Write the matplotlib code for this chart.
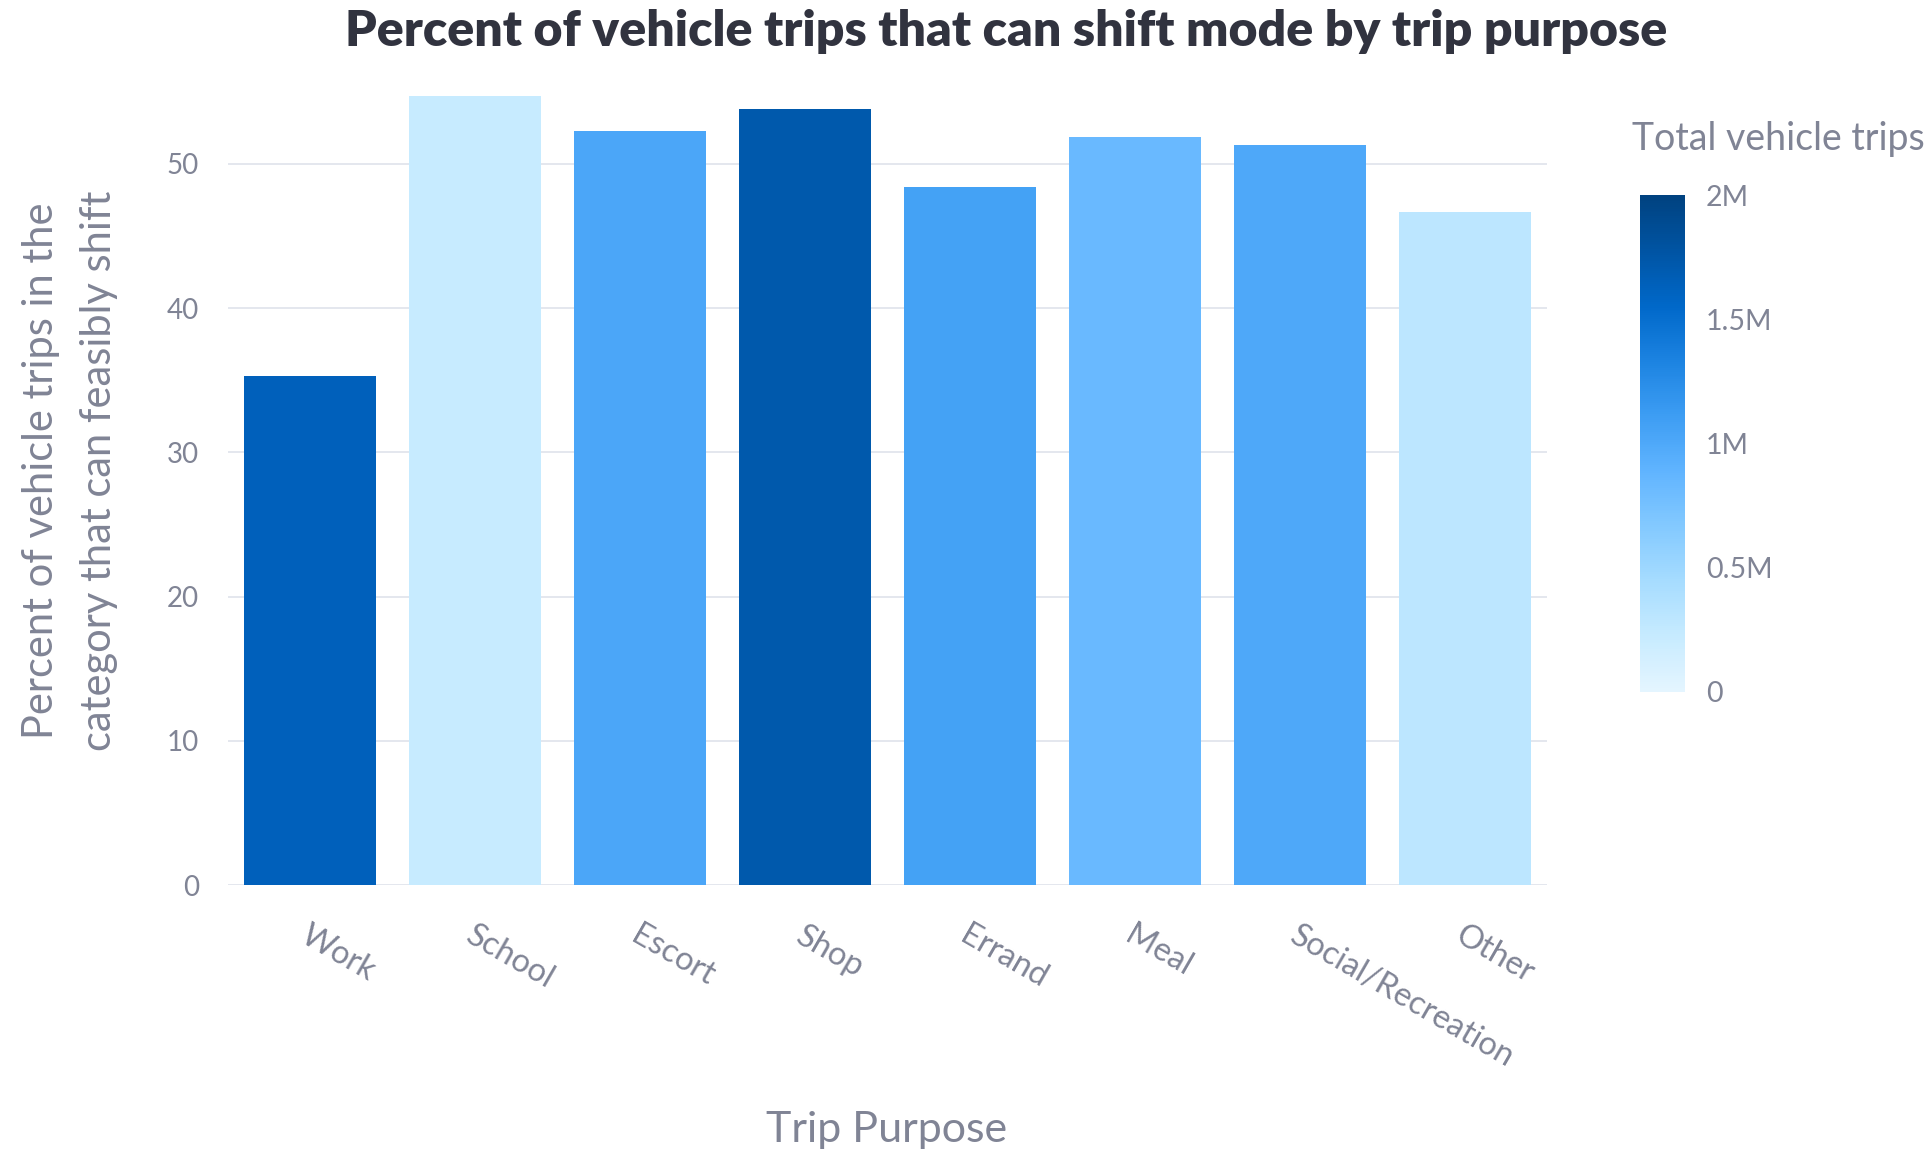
import matplotlib
matplotlib.use("Agg")
import matplotlib.pyplot as plt
import matplotlib.transforms as mtransforms
import numpy as np
from matplotlib.colors import LinearSegmentedColormap, Normalize
from matplotlib.cm import ScalarMappable

purposes = ["Work", "School", "Escort", "Shop", "Errand", "Meal", "Social/Recreation", "Other"]
pct_shift = [35.3, 54.7, 52.3, 53.8, 48.4, 51.9, 51.3, 46.7]
total_trips = [1.64e6, 0.22e6, 1.02e6, 1.72e6, 1.07e6, 0.83e6, 1.00e6, 0.30e6]
cbar_ticks = [0, 0.5e6, 1e6, 1.5e6, 2e6]
cbar_labels = ["0", "0.5M", "1M", "1.5M", "2M"]

blues = ["#e4f5ff", "#c7ebff", "#a6dcff", "#83c9ff", "#60b4ff",
         "#3d9df3", "#1c83e1", "#0068c9", "#0054a3", "#004280"]
cmap = LinearSegmentedColormap.from_list("st_blues", blues)
norm = Normalize(0, 2e6)

plt.rcParams['font.family'] = ['Lato', 'DejaVu Sans']
grey = "#808495"

W, H = 1931, 1155
fig = plt.figure(figsize=(W / 100, H / 100), dpi=100)

ymax = 57.0
ax = fig.add_axes([228 / W, 1 - 885 / H, (1547 - 228) / W, (885 - 63) / H])
x = np.arange(len(purposes))
ax.bar(x, pct_shift, width=0.8, color=cmap(norm(np.array(total_trips))), zorder=2)
ax.set_xlim(-0.5, len(purposes) - 0.5)
ax.set_ylim(0, ymax)
ax.set_yticks(range(0, 51, 10))
ax.grid(axis="y", color="#e4e7ee", lw=1.4, zorder=0)
ax.set_axisbelow(True)
for s in ax.spines.values():
    s.set_visible(False)
ax.tick_params(axis="y", length=0, pad=21, labelsize=20, labelcolor=grey)
ax.set_xticks(x)
ax.set_xticklabels(purposes, rotation=-30, ha="left", va="center",
                   rotation_mode="anchor")
ax.tick_params(axis="x", length=0, pad=35, labelsize=23.5, labelcolor=grey)
# nudge the slanted labels a little to the left
nudge = mtransforms.ScaledTranslation(-0.07, 0, fig.dpi_scale_trans)
for lbl in ax.get_xticklabels():
    lbl.set_transform(lbl.get_transform() + nudge)

fig.text(70 / W, 1 - 471 / H,
         "Percent of vehicle trips in the\ncategory that can feasibly shift",
         rotation=90, ha="center", va="center", ma="center",
         fontsize=30, color=grey, linespacing=1.62)
fig.text(887 / W, 1 - 1130 / H, "Trip Purpose", ha="center", va="center",
         fontsize=31, color=grey)
fig.text(1006 / W, 1 - 31 / H,
         "Percent of vehicle trips that can shift mode by trip purpose",
         ha="center", va="center", fontsize=36, fontweight="heavy", color="#31333f")

cax = fig.add_axes([1640 / W, 1 - 692 / H, 45 / W, 497 / H])
sm = ScalarMappable(norm=norm, cmap=cmap)
cb = fig.colorbar(sm, cax=cax, ticks=cbar_ticks)
cb.outline.set_visible(False)
cb.ax.set_yticklabels(cbar_labels)
cb.ax.tick_params(length=0, pad=15, labelsize=20.5, labelcolor=grey)
fig.text(1632 / W, 1 - 139 / H, "Total vehicle trips", ha="left", va="center",
         fontsize=27, color=grey)

fig.savefig("out.png", dpi=100)
